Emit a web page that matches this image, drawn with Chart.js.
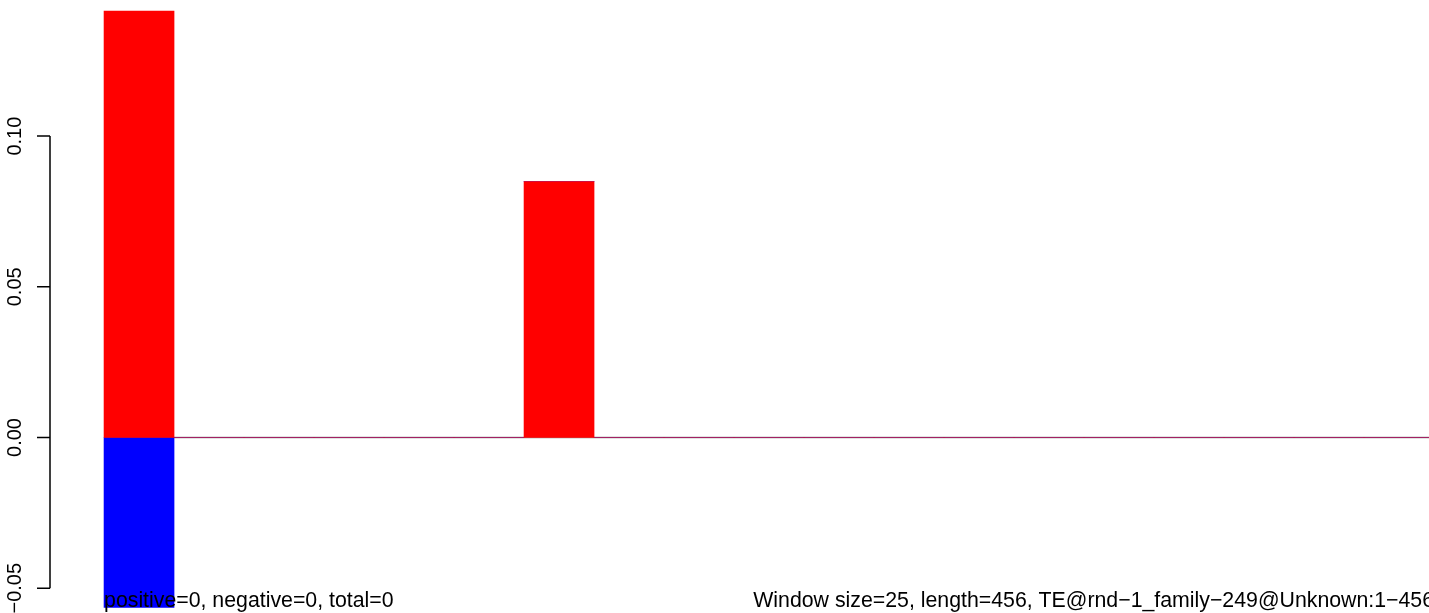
<!DOCTYPE html>
<html>
<head>
<meta charset="utf-8">
<script src="https://cdn.jsdelivr.net/npm/chart.js@4"></script>
<style>
  html, body { margin: 0; padding: 0; background: #fff; overflow: hidden; }
  #wrap { width: 1429px; height: 613px; }
</style>
</head>
<body>
<div id="wrap"><canvas id="chart"></canvas></div>
<script>
// window starts along the TE (window size 25, length 456)
var windowStarts = [0, 25, 50, 75, 100, 125, 150, 175, 200, 225, 250, 275, 300, 325, 350, 375, 400, 425, 450];
var positiveValues = [0.1415, 0, 0, 0, 0, 0, 0.0849, 0, 0, 0, 0, 0, 0, 0, 0, 0, 0, 0, 0];
var negativeValues = [-0.0564, 0, 0, 0, 0, 0, 0, 0, 0, 0, 0, 0, 0, 0, 0, 0, 0, 0, 0];
var yTickValues = [-0.05, 0, 0.05, 0.10];
var yTickLabels = ['\u22120.05', '0.00', '0.05', '0.10'];
var windowSize = 25;
var leftText = 'positive=0, negative=0, total=0';
var rightText = 'Window size=25, length=456, TE@rnd\u22121_family\u2212249@Unknown:1\u2212456';

var font = '"Liberation Sans", Arial, Helvetica, sans-serif';

function toPoints(values) {
    return values.map(function(v, i) {
        return { x: windowStarts[i] + windowSize / 2, y: v };
    });
}

var lastEnd = windowStarts[windowStarts.length - 1] + windowSize;

//Draws the R style y axis and the bottom texts
var decorations = {
    id: 'decorations',
    afterDraw: function(chart) {
        var ctx = chart.ctx;
        var y = chart.scales.y;
        var x = chart.scales.x;
        var axisX = chart.chartArea.left;
        ctx.save();
        ctx.strokeStyle = '#000';
        ctx.lineWidth = 1.5;
        ctx.beginPath();
        ctx.moveTo(axisX, y.getPixelForValue(yTickValues[yTickValues.length - 1]));
        ctx.lineTo(axisX, y.getPixelForValue(yTickValues[0]));
        yTickValues.forEach(function(v) {
            var py = y.getPixelForValue(v);
            ctx.moveTo(axisX - 13, py);
            ctx.lineTo(axisX, py);
        });
        ctx.stroke();

        ctx.fillStyle = '#000';
        ctx.font = '20px ' + font;
        ctx.textAlign = 'center';
        ctx.textBaseline = 'alphabetic';
        yTickValues.forEach(function(v, i) {
            ctx.save();
            ctx.translate(21, y.getPixelForValue(v));
            ctx.rotate(-Math.PI / 2);
            ctx.fillText(yTickLabels[i], 0, 0);
            ctx.restore();
        });

        ctx.font = '21.3px ' + font;
        ctx.textAlign = 'left';
        ctx.fillText(leftText, x.getPixelForValue(0), 607);
        ctx.textAlign = 'right';
        ctx.fillText(rightText, x.getPixelForValue(lastEnd), 607);
        ctx.restore();
    }
};

new Chart(document.getElementById('chart'), {
    type: 'bar',
    data: {
        datasets: [{
            label: 'positive',
            data: toPoints(positiveValues),
            backgroundColor: '#ff0000',
            borderWidth: 0,
            barPercentage: 1,
            categoryPercentage: 1,
            order: 1
        }, {
            label: 'negative',
            data: toPoints(negativeValues),
            backgroundColor: '#0000ff',
            borderWidth: 0,
            barPercentage: 1,
            categoryPercentage: 1,
            order: 1
        }, {
            type: 'line',
            label: 'zero',
            data: [{ x: 0, y: 0 }, { x: lastEnd, y: 0 }],
            borderColor: '#8a8a8a',
            borderWidth: 1.3,
            pointRadius: 0,
            order: 2
        }]
    },
    options: {
        responsive: true,
        maintainAspectRatio: false,
        animation: false,
        layout: { padding: { left: 50, right: 0, top: 0, bottom: 0 } },
        plugins: {
            legend: { display: false },
            tooltip: { enabled: false }
        },
        scales: {
            x: {
                type: 'linear',
                display: false,
                stacked: true,
                offset: false,
                min: -19.3,
                max: 473.2,
                // ticks on window edges so each bar fills its whole window
                afterBuildTicks: function(scale) {
                    scale.ticks = windowStarts.map(function(v) { return { value: v }; });
                }
            },
            y: {
                display: false,
                stacked: true,
                min: -0.05823,
                max: 0.14516
            }
        }
    },
    plugins: [decorations]
});
</script>
</body>
</html>
